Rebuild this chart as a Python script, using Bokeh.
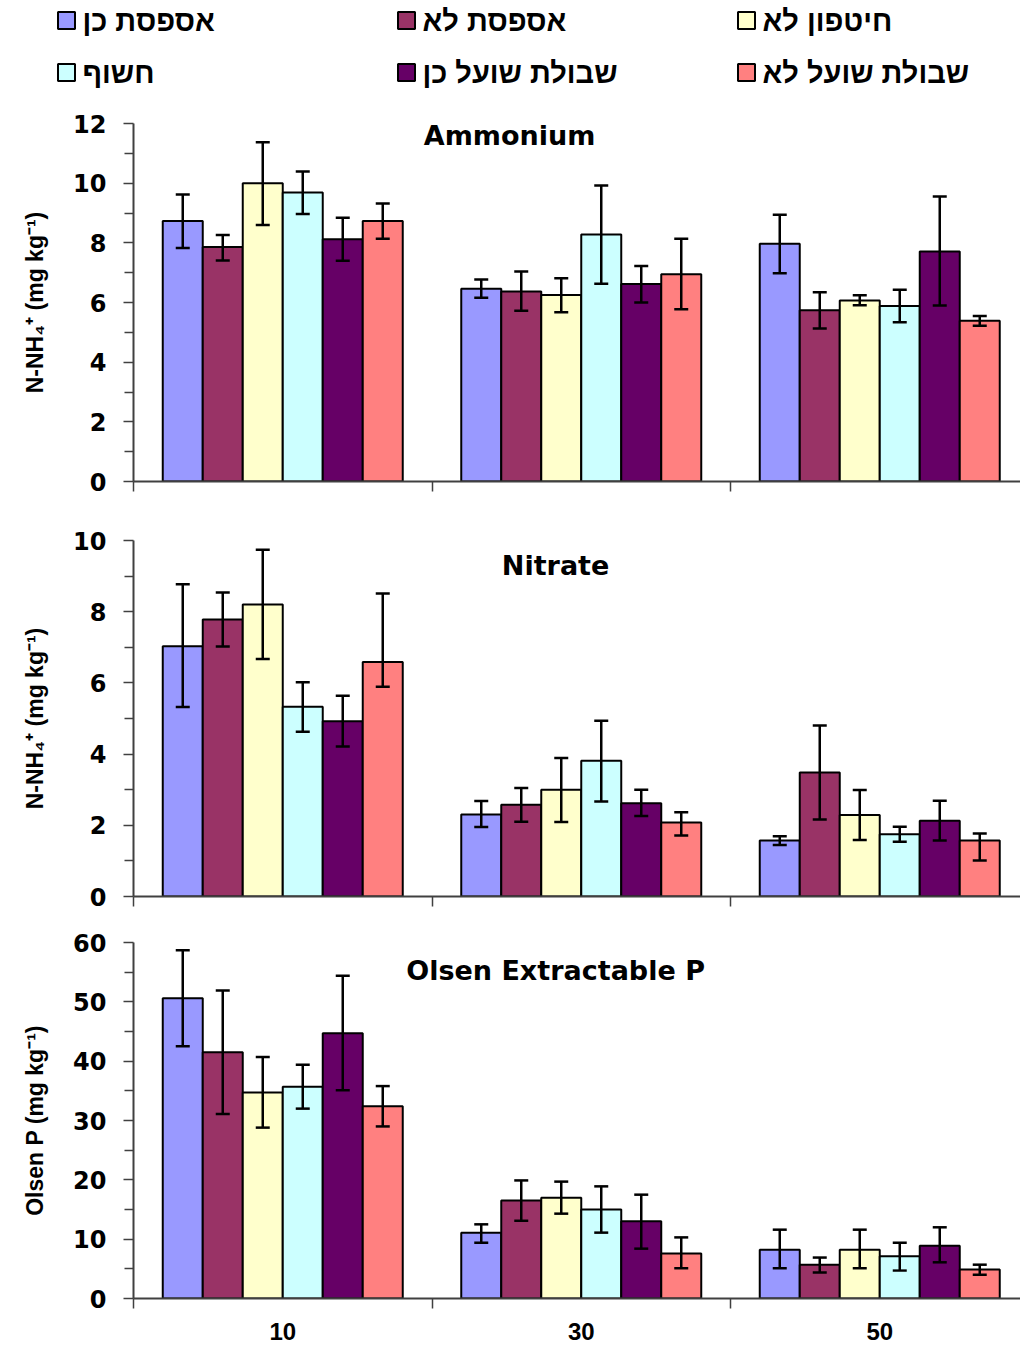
from bokeh.plotting import figure
from bokeh.layouts import column, row
from bokeh.models import Range1d, FixedTicker, Whisker, TeeHead, ColumnDataSource, Label
from bokeh.core.properties import value
from bokeh.embed import file_html
from bokeh.resources import INLINE

# ---------------- data ----------------
series = ["אספסת כן", "אספסת לא", "חיטפון לא", "חשוף", "שבולת שועל כן", "שבולת שועל לא"]
colors = ["#9999FF", "#993366", "#FFFFCC", "#CCFFFF", "#660066", "#FF8080"]
depths = ["10", "30", "50"]

# Ammonium (per series, per depth)
nh4_mean = [[8.73, 6.46, 7.97], [7.86, 6.37, 5.74], [10.00, 6.25, 6.07],
            [9.69, 8.28, 5.88], [8.12, 6.62, 7.71], [8.73, 6.95, 5.39]]
nh4_hi = [[9.62, 6.77, 8.94], [8.26, 7.04, 6.34], [11.37, 6.81, 6.24],
          [10.39, 9.92, 6.43], [8.84, 7.22, 9.55], [9.32, 8.14, 5.55]]
nh4_lo = [[7.83, 6.16, 6.98], [7.41, 5.72, 5.13], [8.60, 5.67, 5.91],
          [8.97, 6.63, 5.34], [7.40, 6.00, 5.90], [8.14, 5.77, 5.22]]

# Nitrate
no3_mean = [[7.03, 2.30, 1.57], [7.78, 2.58, 3.48], [8.20, 3.00, 2.29],
            [5.33, 3.81, 1.75], [4.92, 2.62, 2.13], [6.59, 2.08, 1.57]]
no3_hi = [[8.77, 2.68, 1.69], [8.54, 3.05, 4.80], [9.74, 3.89, 2.99],
          [6.02, 4.94, 1.96], [5.64, 3.00, 2.69], [8.51, 2.37, 1.77]]
no3_lo = [[5.32, 1.95, 1.45], [7.02, 2.10, 2.16], [6.67, 2.09, 1.59],
          [4.63, 2.67, 1.54], [4.21, 2.26, 1.57], [5.89, 1.71, 1.01]]

# Olsen P
p_mean = [[50.6, 11.1, 8.2], [41.5, 16.5, 5.7], [34.7, 17.0, 8.2],
          [35.7, 15.0, 7.1], [44.7, 13.0, 8.9], [32.4, 7.6, 4.9]]
p_hi = [[58.7, 12.5, 11.6], [51.9, 19.9, 6.9], [40.7, 19.7, 11.6],
        [39.4, 18.9, 9.4], [54.4, 17.5, 12.0], [35.8, 10.3, 5.7]]
p_lo = [[42.5, 9.4, 5.1], [31.1, 13.1, 4.4], [28.8, 14.3, 5.1],
        [32.0, 11.1, 4.7], [35.1, 8.4, 6.1], [29.0, 5.1, 4.0]]

# ---------------- styling ----------------
W = 1020
LEFT = 133
XMAX = (W - LEFT) / 298.5
BW = 0.134
AX = "#404040"
TICK_FONT = "DejaVu Sans"
LABEL_FONT = "Liberation Sans"


def make_panel(mean, hi, lo, ymax, step, ylabel, title, tx, ty,
               height, btop, bbottom, show_x):
    p = figure(width=W, height=height, output_backend="svg", toolbar_location=None,
               x_range=Range1d(0, XMAX), y_range=Range1d(0, ymax),
               min_border_left=LEFT, min_border_right=0,
               min_border_top=btop, min_border_bottom=bbottom)
    p.outline_line_color = None
    p.background_fill_color = "white"
    p.xgrid.visible = False
    p.ygrid.ticker = FixedTicker(ticks=[ymax])
    p.ygrid.grid_line_color = "#808080"
    p.ygrid.grid_line_width = 2

    for s in range(len(series)):
        xs = [g + 0.5 + (s - 2.5) * BW for g in range(len(depths))]
        src = ColumnDataSource(dict(x=xs, top=mean[s], hi=hi[s], lo=lo[s]))
        p.vbar(x="x", top="top", bottom=0, width=BW, source=src,
               fill_color=colors[s], line_color="black", line_width=2)
        p.add_layout(Whisker(base="x", upper="hi", lower="lo", source=src, level="annotation",
                             dimension="height", line_color="black", line_width=2.5,
                             upper_head=TeeHead(size=14, line_width=2.5, line_color="black"),
                             lower_head=TeeHead(size=14, line_width=2.5, line_color="black")))

    majors = [i * step for i in range(int(round(ymax / step)) + 1)]
    minors = [m + step / 2 for m in majors[:-1]]
    ya = p.yaxis[0]
    ya.ticker = FixedTicker(ticks=majors, minor_ticks=minors)
    ya.axis_line_color = AX
    ya.axis_line_width = 2
    ya.major_tick_line_color = AX
    ya.minor_tick_line_color = AX
    ya.major_tick_line_width = 1.5
    ya.minor_tick_line_width = 1.5
    ya.major_tick_out = 10
    ya.major_tick_in = 0
    ya.minor_tick_out = 9
    ya.minor_tick_in = 0
    ya.major_label_standoff = 17
    ya.major_label_text_font = TICK_FONT
    ya.major_label_text_font_style = "bold"
    ya.major_label_text_font_size = "24px"
    ya.major_label_text_color = "black"
    ya.axis_label = ylabel
    ya.axis_label_text_font = LABEL_FONT
    ya.axis_label_text_font_style = "bold"
    ya.axis_label_text_font_size = "23px"
    ya.axis_label_text_color = "black"
    ya.axis_label_standoff = 22

    xa = p.xaxis[0]
    bounds = list(range(len(depths) + 1))
    if show_x:
        xa.ticker = FixedTicker(ticks=[g + 0.5 for g in range(len(depths))], minor_ticks=bounds)
        xa.major_label_overrides = {g + 0.5: d for g, d in enumerate(depths)}
        xa.major_label_standoff = 14
        xa.major_label_text_font = LABEL_FONT
        xa.major_label_text_font_style = "bold"
        xa.major_label_text_font_size = "24px"
        xa.major_label_text_color = "black"
    else:
        xa.ticker = FixedTicker(ticks=[], minor_ticks=bounds)
        xa.major_label_standoff = 0
    xa.axis_line_color = AX
    xa.axis_line_width = 2
    xa.major_tick_out = 0
    xa.major_tick_in = 0
    xa.minor_tick_out = 10
    xa.minor_tick_in = 0
    xa.minor_tick_line_color = AX
    xa.minor_tick_line_width = 1.5

    p.add_layout(Label(x=tx, y=ty, text=title, text_align="center", text_baseline="middle",
                       text_font="DejaVu Sans", text_font_style="bold",
                       text_font_size="27px", text_color="black"))
    return p


p1 = make_panel(nh4_mean, nh4_hi, nh4_lo, 12, 2, "N-NH₄⁺ (mg kg⁻¹)", "Ammonium",
                1.26, 11.6, 410, 23, 29, False)
p2 = make_panel(no3_mean, no3_hi, no3_lo, 10, 2, "N-NH₄⁺ (mg kg⁻¹)", "Nitrate",
                1.414, 9.3, 410, 30, 24, False)
p3 = make_panel(p_mean, p_hi, p_lo, 60, 10, "Olsen P (mg kg⁻¹)", "Olsen Extractable P",
                1.414, 55.3, 430, 22, 52, True)

# ---------------- legend (own figure, page-pixel coordinates) ----------------
LH = 100
leg = figure(width=W, height=LH, output_backend="svg", toolbar_location=None,
             x_range=Range1d(0, W), y_range=Range1d(LH, 0),
             min_border=0, x_axis_type=None, y_axis_type=None)
leg.outline_line_color = None
leg.grid.visible = False
col_x = [66, 406, 746]
row_y = [20, 72]
lx, ly, tx_, names = [], [], [], []
for i, name in enumerate(series):
    r, c = divmod(i, 3)
    lx.append(col_x[c])
    ly.append(row_y[r])
    tx_.append(col_x[c] + 16)
    names.append(name)
leg.rect(x=lx, y=ly, width=17, height=17, fill_color=colors,
         line_color="black", line_width=2)
leg.text(x=tx_, y=ly, text=names, text_align="left", text_baseline="middle",
         text_font=value(LABEL_FONT), text_font_style="bold",
         text_font_size="29px", text_color="black")

layout = column(row(leg), column(p1, p2, p3, spacing=0), spacing=0)
open("out.html", "w").write(file_html(layout, INLINE))
